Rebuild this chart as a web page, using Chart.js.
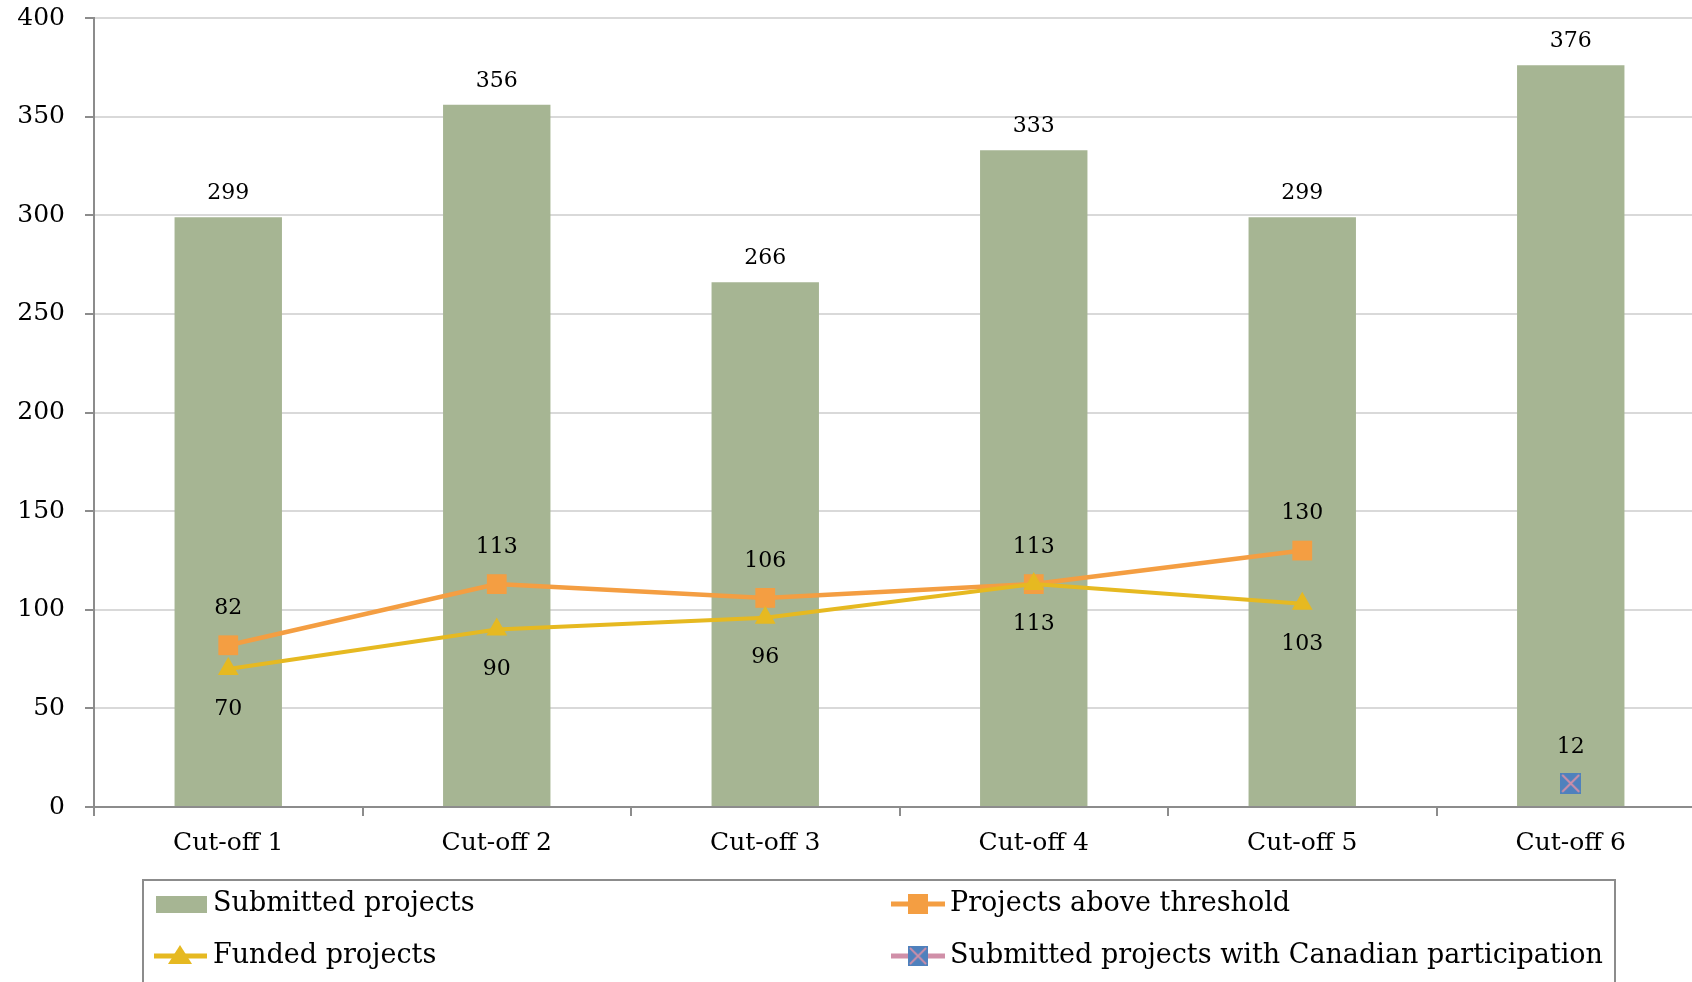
<!DOCTYPE html>
<html>
<head>
<meta charset="utf-8">
<script src="https://cdn.jsdelivr.net/npm/chart.js@4/dist/chart.umd.min.js"></script>
<style>
  html, body { margin: 0; padding: 0; background: #fff; overflow: hidden; }
  canvas { display: block; }
</style>
</head>
<body>
<!-- the plot runs a little past the right edge of the window, as in the source -->
<canvas id="chart" width="1705" height="982"></canvas>
<script>
const labels = ['Cut-off 1', 'Cut-off 2', 'Cut-off 3', 'Cut-off 4', 'Cut-off 5', 'Cut-off 6']
const submitted = [299, 356, 266, 333, 299, 376]
const aboveThreshold = [82, 113, 106, 113, 130, null]
const funded = [70, 90, 96, 113, 103, null]
const canadian = [null, null, null, null, null, 12]
const yTicks = [0, 50, 100, 150, 200, 250, 300, 350, 400]

const FONT = "'DejaVu Serif', 'Liberation Serif', serif"
const GREEN = '#A6B593'
const ORANGE = '#F49E42'
const YELLOW = '#E6B921'
const BLUE = '#4F81BD'
const PINK = '#D08FA8'
const AXIS = '#8C8C8C'

// blue square with a pink cross, used as point style
function crossBox(size) {
    const c = document.createElement('canvas')
    c.width = size
    c.height = size
    const g = c.getContext('2d')
    g.fillStyle = BLUE
    g.fillRect(0, 0, size, size)
    g.strokeStyle = PINK
    g.lineWidth = 2
    g.beginPath()
    g.moveTo(2, 2); g.lineTo(size - 2, size - 2)
    g.moveTo(size - 2, 2); g.lineTo(2, size - 2)
    g.stroke()
    return c
}
const crossImg = crossBox(21)

// value labels above / below marks
const valueLabels = {
    id: 'valueLabels',
    afterDatasetsDraw(chart) {
        const ctx = chart.ctx
        ctx.save()
        ctx.font = '22px ' + FONT
        ctx.fillStyle = '#000'
        ctx.textAlign = 'center'
        ctx.textBaseline = 'middle'
        chart.data.datasets.forEach((ds, i) => {
            const meta = chart.getDatasetMeta(i)
            meta.data.forEach((el, j) => {
                const v = ds.data[j]
                if (v === null || v === undefined) return
                ctx.fillText(String(v), el.x, el.y + ds.labelShift)
            })
        })
        ctx.restore()
    }
}

// two-column boxed legend under the axis
const boxLegend = {
    id: 'boxLegend',
    afterDraw(chart) {
        const ctx = chart.ctx
        ctx.save()
        ctx.strokeStyle = AXIS
        ctx.lineWidth = 2
        ctx.strokeRect(143, 880, 1472, 120)
        ctx.font = '27px ' + FONT
        ctx.fillStyle = '#000'
        ctx.textBaseline = 'middle'

        // Submitted projects
        ctx.fillStyle = GREEN
        ctx.fillRect(156, 896, 51, 17)
        ctx.fillStyle = '#000'
        ctx.fillText('Submitted projects', 213, 904)

        // Funded projects
        let y = 956
        ctx.strokeStyle = YELLOW
        ctx.lineWidth = 5
        ctx.beginPath(); ctx.moveTo(154, y); ctx.lineTo(207, y); ctx.stroke()
        ctx.fillStyle = YELLOW
        ctx.beginPath(); ctx.moveTo(180, y - 11); ctx.lineTo(192, y + 8); ctx.lineTo(168, y + 8); ctx.closePath(); ctx.fill()
        ctx.fillStyle = '#000'
        ctx.fillText('Funded projects', 213, y)

        // Projects above threshold
        y = 904
        ctx.strokeStyle = ORANGE
        ctx.beginPath(); ctx.moveTo(891, y); ctx.lineTo(945, y); ctx.stroke()
        ctx.fillStyle = ORANGE
        ctx.fillRect(908, y - 10, 20, 20)
        ctx.fillStyle = '#000'
        ctx.fillText('Projects above threshold', 950, y)

        // Canadian participation
        y = 956
        ctx.strokeStyle = PINK
        ctx.beginPath(); ctx.moveTo(891, y); ctx.lineTo(945, y); ctx.stroke()
        ctx.drawImage(crossImg, 908, y - 10, 20, 20)
        ctx.fillStyle = '#000'
        ctx.fillText('Submitted projects with Canadian participation', 950, y)
        ctx.restore()
    }
}

const config = {
    type: 'bar',
    data: {
        labels: labels,
        datasets: [
            {
                type: 'line',
                label: 'Funded projects',
                data: funded,
                borderColor: YELLOW,
                backgroundColor: YELLOW,
                borderWidth: 4,
                pointStyle: 'triangle',
                pointRadius: 12,
                pointBorderWidth: 0,
                labelShift: 40,
                order: 1
            },
            {
                type: 'line',
                label: 'Projects above threshold',
                data: aboveThreshold,
                borderColor: ORANGE,
                backgroundColor: ORANGE,
                borderWidth: 4.5,
                pointStyle: 'rect',
                pointRadius: 14,
                pointBorderWidth: 0,
                labelShift: -37,
                order: 2
            },
            {
                type: 'line',
                label: 'Submitted projects with Canadian participation',
                data: canadian,
                borderColor: PINK,
                backgroundColor: BLUE,
                pointStyle: crossImg,
                labelShift: -36,
                order: 0
            },
            {
                label: 'Submitted projects',
                data: submitted,
                backgroundColor: GREEN,
                barPercentage: 0.8,
                categoryPercentage: 0.5,
                labelShift: -24,
                order: 5
            }
        ]
    },
    options: {
        responsive: false,
        devicePixelRatio: 1,
        animation: false,
        layout: { autoPadding: false, padding: { top: 18, right: 0, bottom: 0, left: 0 } },
        plugins: {
            legend: { display: false },
            tooltip: { enabled: false }
        },
        scales: {
            x: {
                afterFit(s) {
                    s.height = 175
                    s.paddingLeft = 0
                    s.paddingRight = 0
                },
                grid: {
                    drawOnChartArea: false,
                    drawTicks: true,
                    tickLength: 9,
                    tickColor: AXIS,
                    lineWidth: 2
                },
                border: { color: AXIS, width: 2 },
                ticks: {
                    color: '#000',
                    padding: 12,
                    font: { family: FONT, size: 25 }
                }
            },
            y: {
                min: 0,
                max: 400,
                afterFit(s) {
                    s.width = 94
                    s.paddingTop = 0
                    s.paddingBottom = 0
                },
                afterBuildTicks(s) { s.ticks = yTicks.map(v => ({ value: v })) },
                grid: {
                    color: '#D9D9D9',
                    lineWidth: 2,
                    tickLength: 9,
                    tickColor: AXIS
                },
                border: { color: AXIS, width: 2 },
                ticks: {
                    color: '#000',
                    padding: 20,
                    font: { family: FONT, size: 25 }
                }
            }
        }
    },
    plugins: [valueLabels, boxLegend]
}

new Chart(document.getElementById('chart'), config)
</script>
</body>
</html>
